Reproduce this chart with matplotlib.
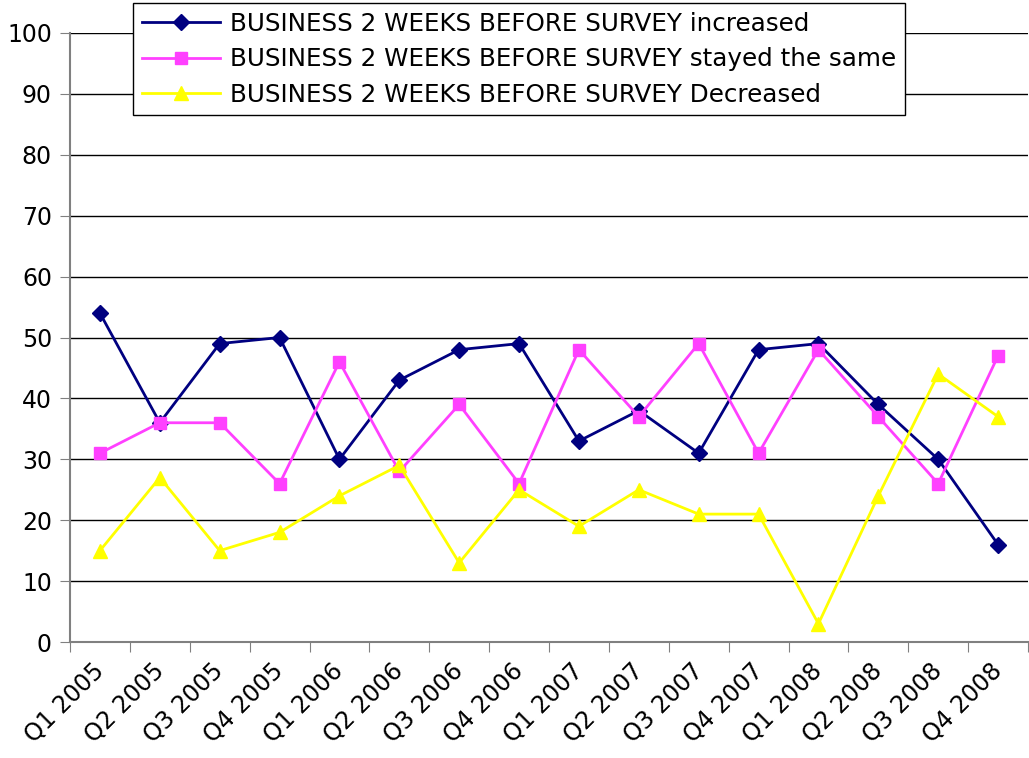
import matplotlib
matplotlib.use('Agg')
import matplotlib.pyplot as plt
import matplotlib.transforms as mtransforms
import numpy as np

quarters = ['Q1 2005', 'Q2 2005', 'Q3 2005', 'Q4 2005',
            'Q1 2006', 'Q2 2006', 'Q3 2006', 'Q4 2006',
            'Q1 2007', 'Q2 2007', 'Q3 2007', 'Q4 2007',
            'Q1 2008', 'Q2 2008', 'Q3 2008', 'Q4 2008']
increased = [54, 36, 49, 50, 30, 43, 48, 49, 33, 38, 31, 48, 49, 39, 30, 16]
same = [31, 36, 36, 26, 46, 28, 39, 26, 48, 37, 49, 31, 48, 37, 26, 47]
decreased = [15, 27, 15, 18, 24, 29, 13, 25, 19, 25, 21, 21, 3, 24, 44, 37]

labels = ['BUSINESS 2 WEEKS BEFORE SURVEY increased',
          'BUSINESS 2 WEEKS BEFORE SURVEY stayed the same',
          'BUSINESS 2 WEEKS BEFORE SURVEY Decreased']

plt.rcParams['font.family'] = ['DejaVu Sans']
plt.rcParams['font.size'] = 17

fig = plt.figure(figsize=(10.29, 7.58), dpi=100)
ax = fig.add_axes([70 / 1029, 1 - 642 / 758, 958 / 1029, 609 / 758])

x = np.arange(len(quarters))
ax.plot(x, increased, color='#000080', lw=2, marker='D', ms=8, label=labels[0])
ax.plot(x, same, color='#FF40FF', lw=2, marker='s', ms=9, label=labels[1])
ax.plot(x, decreased, color='#FFFF00', lw=2, marker='^', ms=10, label=labels[2])

ax.set_xlim(-0.5, len(quarters) - 0.5)
ax.set_ylim(0, 100)
ax.set_yticks(range(0, 101, 10))
ax.yaxis.grid(True, color='black', lw=1)
ax.set_axisbelow(True)

ax.set_xticks(np.arange(len(quarters) + 1) - 0.5)
ax.set_xticklabels([])
ax.set_xticks(x, minor=True)
ax.set_xticklabels(quarters, minor=True, rotation=45, ha='right', rotation_mode='anchor')
ax.tick_params(axis='x', which='minor', length=0, pad=12)
ax.tick_params(axis='x', which='major', length=7, color='#808080', direction='out')
ax.tick_params(axis='y', length=7, color='#808080', direction='out', pad=6)
shift = mtransforms.ScaledTranslation(-8 / 100, 0, fig.dpi_scale_trans)
for lbl in ax.get_xticklabels(minor=True):
    lbl.set_transform(lbl.get_transform() + shift)

for side in ['top', 'right']:
    ax.spines[side].set_visible(False)
for side in ['left', 'bottom']:
    ax.spines[side].set_color('#808080')
    ax.spines[side].set_linewidth(1.5)

leg = fig.legend(loc='upper left', bbox_to_anchor=(133 / 1029, 1 - 3 / 758),
                 frameon=True, fancybox=False, framealpha=1, edgecolor='black',
                 prop={'size': 17.7},
                 handlelength=3.2, handletextpad=0.4, borderpad=0.35,
                 labelspacing=0.47, borderaxespad=0)
leg.get_frame().set_linewidth(1)

plt.savefig('out.png', dpi=100)
